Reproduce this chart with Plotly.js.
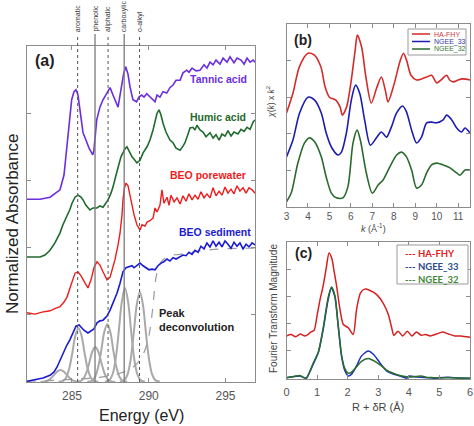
<!DOCTYPE html>
<html><head><meta charset="utf-8">
<script src="https://cdn.plot.ly/plotly-3.0.1.min.js"></script>
<style>html,body{margin:0;padding:0;background:#fff}#chart{width:474px;height:426px}</style>
</head><body><div id="chart"></div>
<script>
// ---------- Panel (a): C NEXAFS spectra (energy in eV, stacked normalized absorbance) ----------
const E_tannic = [282.07,282.92,283.57,283.96,284.22,284.48,284.65,284.8,284.98,285.13,285.26,285.39,285.52,285.72,285.91,286.11,286.35,286.43,286.61,286.82,287.02,287.22,287.48,287.67,287.8,288.0,288.19,288.36,288.5,288.65,288.78,288.97,289.21,289.36,289.54,289.69,289.87,290.08,290.28,290.41,290.54,290.73,290.93,291.17,291.38,291.58,291.78,292.04,292.23,292.47,292.62,292.82,293.08,293.34,293.6,293.79,293.99,294.19,294.38,294.64,294.84,295.1,295.29,295.55,295.75,296.01,296.21,296.4,296.6,296.8,296.92];
const A_tannic = [2.72,2.72,2.75,2.81,2.86,3.08,3.45,3.82,4.2,4.32,4.35,4.27,4.05,3.71,3.6,3.48,3.38,3.45,3.9,4.09,4.2,4.27,4.38,4.27,4.2,4.09,4.35,4.58,4.69,4.58,4.39,4.2,4.17,4.24,4.27,4.24,4.29,4.24,4.2,4.17,4.27,4.24,4.32,4.3,4.38,4.42,4.49,4.49,4.6,4.64,4.61,4.67,4.63,4.64,4.72,4.67,4.76,4.72,4.79,4.73,4.82,4.76,4.84,4.75,4.82,4.79,4.73,4.82,4.76,4.79,4.76];

const E_humic = [282.07,282.92,283.24,283.57,283.89,284.22,284.41,284.67,284.87,285.0,285.2,285.39,285.59,285.72,285.91,286.17,286.37,286.63,286.82,287.02,287.22,287.35,287.54,287.67,287.87,288.0,288.19,288.32,288.45,288.58,288.78,288.91,289.1,289.23,289.43,289.63,289.89,290.08,290.28,290.41,290.54,290.67,290.8,290.93,291.12,291.38,291.58,291.78,292.04,292.23,292.36,292.56,292.69,292.88,293.01,293.14,293.34,293.53,293.73,293.99,294.19,294.38,294.58,294.77,294.97,295.16,295.36,295.55,295.81,296.01,296.21,296.4,296.6,296.8,296.92];
const A_humic = [1.86,1.86,1.89,1.96,2.07,2.22,2.34,2.46,2.57,2.66,2.75,2.78,2.75,2.71,2.63,2.56,2.59,2.59,2.62,2.6,2.66,2.71,2.81,2.9,3.08,3.2,3.35,3.41,3.47,3.5,3.42,3.35,3.3,3.26,3.3,3.41,3.5,3.6,3.75,3.9,4.0,4.05,3.97,3.85,3.72,3.6,3.56,3.48,3.45,3.51,3.56,3.69,3.78,3.79,3.75,3.82,3.75,3.72,3.65,3.71,3.63,3.68,3.6,3.69,3.66,3.74,3.66,3.72,3.69,3.76,3.73,3.79,3.76,3.87,3.9];

const E_pore = [282.07,282.59,283.05,283.57,283.96,284.22,284.48,284.67,284.93,285.2,285.39,285.59,285.78,286.04,286.24,286.43,286.63,286.82,287.02,287.28,287.48,287.67,287.8,288.0,288.13,288.26,288.32,288.42,288.52,288.65,288.78,288.91,289.04,289.23,289.43,289.56,289.76,289.89,290.08,290.28,290.41,290.54,290.73,290.86,290.99,291.19,291.32,291.45,291.65,291.84,292.04,292.23,292.43,292.62,292.82,293.01,293.21,293.4,293.6,293.79,293.99,294.19,294.38,294.58,294.77,294.97,295.16,295.36,295.55,295.75,295.94,296.14,296.34,296.53,296.73,296.92];
const A_pore = [1.03,1.01,1.04,1.06,1.1,1.12,1.19,1.26,1.44,1.62,1.64,1.58,1.5,1.4,1.52,1.7,1.79,1.74,1.64,1.52,1.56,1.7,1.82,2.04,2.22,2.49,2.71,2.89,2.96,2.92,2.78,2.63,2.49,2.34,2.26,2.34,2.32,2.38,2.4,2.44,2.59,2.53,2.63,2.86,2.66,2.75,2.63,2.78,2.68,2.74,2.65,2.77,2.69,2.8,2.71,2.78,2.72,2.83,2.74,2.8,2.74,2.89,2.77,2.84,2.78,2.9,2.81,2.87,2.8,2.92,2.84,2.89,2.81,2.89,2.86,2.81];

const E_sed = [282.07,282.59,283.11,283.57,283.83,284.02,284.22,284.41,284.67,284.87,285.07,285.26,285.46,285.59,285.78,286.04,286.24,286.43,286.63,286.82,287.02,287.28,287.48,287.67,287.93,288.13,288.32,288.52,288.71,288.91,289.04,289.23,289.43,289.63,289.82,290.02,290.21,290.41,290.6,290.8,290.99,291.19,291.38,291.58,291.78,292.04,292.23,292.43,292.62,292.82,293.01,293.21,293.4,293.6,293.79,293.99,294.19,294.38,294.58,294.77,294.97,295.16,295.36,295.55,295.75,295.94,296.14,296.34,296.53,296.73,296.92];
const A_sed = [0.01,0.03,0.06,0.1,0.15,0.22,0.33,0.43,0.55,0.63,0.74,0.83,0.85,0.82,0.77,0.73,0.76,0.79,0.88,0.91,0.92,0.98,1.07,1.18,1.32,1.47,1.64,1.7,1.71,1.73,1.7,1.74,1.77,1.73,1.7,1.67,1.68,1.67,1.73,1.77,1.79,1.83,1.8,1.85,1.83,1.86,1.89,1.88,1.93,1.9,1.96,1.93,2.02,1.98,2.07,2.01,2.1,2.02,2.08,2.01,2.1,2.05,1.99,2.08,2.02,2.07,1.98,2.05,2.01,2.07,2.04];

// ionization step (dashed) of the deconvolution
const E_step = [282.07,284.22,286.82,288.13,288.97,289.43,289.76,290.02,290.21,290.34,290.47,290.67,290.93,291.38,292.04,293.34,294.64,295.94,296.92];
const A_step = [0.01,0.03,0.07,0.13,0.22,0.33,0.48,0.7,1.0,1.29,1.55,1.73,1.82,1.88,1.9,1.95,1.98,1.99,1.99];

// deconvolution peaks
const E_g1 = [282.95,283.25,283.45,283.65,283.85,284.05,284.25,284.45,284.65,284.85,285.05,285.25,285.55];
const A_g1 = [0.001,0.008,0.024,0.058,0.11,0.158,0.18,0.158,0.11,0.058,0.024,0.008,0.001];
const E_g2 = [284.12,284.42,284.62,284.82,285.02,285.22,285.42,285.62,285.82,286.02,286.22,286.42,286.72];
const A_g2 = [0.002,0.017,0.068,0.2,0.43,0.69,0.8,0.69,0.43,0.2,0.068,0.017,0.002];
const E_g3 = [285.22,285.52,285.72,285.92,286.12,286.32,286.52,286.72,286.92,287.12,287.32,287.52,287.82];
const A_g3 = [0.001,0.011,0.044,0.13,0.28,0.45,0.52,0.45,0.28,0.13,0.044,0.011,0.001];
const E_g4 = [286.0,286.3,286.5,286.7,286.9,287.1,287.3,287.5,287.7,287.9,288.1,288.3,288.6];
const A_g4 = [0.002,0.018,0.073,0.215,0.46,0.74,0.86,0.74,0.46,0.215,0.073,0.018,0.002];
const E_g5 = [287.15,287.45,287.65,287.85,288.05,288.25,288.45,288.65,288.85,289.05,289.25,289.45,289.75];
const A_g5 = [0.003,0.03,0.12,0.35,0.76,1.2,1.4,1.2,0.76,0.35,0.12,0.03,0.003];
const E_g6 = [288.12,288.42,288.62,288.82,289.02,289.22,289.42,289.62,289.82,290.02,290.22,290.42,290.72];
const A_g6 = [0.003,0.028,0.114,0.335,0.72,1.15,1.34,1.15,0.72,0.335,0.114,0.028,0.003];

const bandNames    = ["aromatic","phenolic","aliphatic","carboxylic","o-alkyl"];
const bandEnergies = [285.37, 286.5, 287.35, 288.4, 289.4];
const bandDash     = ["dot","solid","dot","solid","dot"];
const energyTicks  = [285, 290, 295];

// ---------- Panel (b): EXAFS chi(k) * k^2 ----------
const k_hafhy = [3.0,3.3,3.6,4.0,4.3,4.6,4.8,5.0,5.3,5.5,5.6,5.8,6.0,6.2,6.3,6.5,6.7,6.95,7.2,7.42,7.6,7.73,8.0,8.3,8.45,8.6,8.8,9.06,9.3,9.53,9.76,10.0,10.2,10.46,10.6,10.77,11.0,11.2,11.55];
const chi_hafhy = [2.57,3.11,3.83,4.2,4.15,3.83,3.28,3.0,2.92,2.73,2.51,2.73,3.39,4.29,4.7,4.37,3.55,2.84,3.25,3.55,3.2,2.87,3.33,4.0,4.2,4.0,3.6,3.47,3.5,3.55,3.6,3.39,3.47,3.6,3.47,3.42,3.47,3.5,3.47];
const k_ngee33 = [3.0,3.3,3.61,4.0,4.31,4.62,4.85,5.09,5.4,5.56,5.79,6.02,6.22,6.41,6.64,6.91,7.19,7.42,7.66,7.89,8.13,8.41,8.59,8.83,9.06,9.29,9.53,9.76,10.0,10.3,10.46,10.7,10.93,11.16,11.32,11.55];
const chi_ngee33 = [1.37,1.83,2.57,3.0,2.92,2.57,2.02,1.64,1.42,1.5,2.02,2.92,3.33,3.11,2.38,1.69,1.89,2.05,1.91,2.19,2.57,2.76,2.6,2.1,1.75,1.91,2.3,2.32,2.3,2.38,2.51,2.38,2.16,2.05,2.16,2.02];
const k_ngee32 = [3.0,3.22,3.53,3.84,4.07,4.31,4.62,4.85,5.09,5.32,5.63,5.86,6.1,6.29,6.44,6.72,7.0,7.27,7.5,7.81,8.13,8.36,8.59,8.83,9.06,9.29,9.53,9.76,10.0,10.3,10.62,10.93,11.08,11.32,11.55];
const chi_ngee32 = [0.14,0.38,1.2,1.75,1.89,1.78,1.37,0.82,0.38,0.25,0.25,0.55,1.75,2.1,1.83,0.93,0.38,0.6,0.74,1.09,1.42,1.5,1.37,1.01,0.52,0.6,0.93,1.15,1.2,1.15,1.07,0.93,0.87,1.01,1.01];

// ---------- Panel (c): Fourier transform magnitude ----------
const R_hafhy = [0,0.15,0.3,0.45,0.6,0.7,0.8,0.9,1.0,1.1,1.2,1.3,1.39,1.48,1.56,1.64,1.75,1.86,2.02,2.18,2.29,2.42,2.56,2.73,2.95,3.16,3.33,3.44,3.51,3.65,3.8,3.95,4.1,4.25,4.4,4.55,4.7,4.9,5.1,5.3,5.5,5.7,6.0];
const FT_hafhy = [1.55,1.6,1.52,1.62,1.55,1.6,1.7,1.75,2.3,2.9,3.4,4.05,4.6,4.4,3.9,3.37,2.52,1.97,1.85,1.6,2.52,3.13,3.27,3.22,3.07,2.76,2.34,1.85,1.57,1.72,1.55,1.72,1.55,1.7,1.58,1.6,1.55,1.62,1.7,1.62,1.55,1.55,1.5];
const R_ngee = [0,0.2,0.44,0.55,0.65,0.75,0.87,1.04,1.2,1.36,1.47,1.58,1.69,1.8,1.91,2.02,2.13,2.29,2.45,2.67,2.84,3.05,3.27,3.49,3.71,3.93,4.04,4.2,4.4,4.6,4.8,5.0,5.3,5.6,6.0];
const FT_ngee33 = [0.02,0.05,0.08,0.03,0.0,0.2,0.5,0.94,1.79,2.88,3.31,3.0,1.91,0.81,0.27,0.08,0.15,0.45,0.81,1.0,0.88,0.57,0.27,0.15,0.08,0.0,0.08,0.05,0.03,0.02,0.0,0.02,0.03,0.01,0.0];
const FT_ngee32 = [0.02,0.05,0.1,0.03,0.0,0.22,0.55,0.95,1.85,2.95,3.35,3.05,1.95,0.85,0.35,0.18,0.22,0.42,0.62,0.72,0.65,0.5,0.3,0.18,0.1,0.05,0.04,0.06,0.08,0.03,0.02,0.01,0.02,0.01,0.0];

// ---------- build ----------
const W = 474, H = 426;
const PX = v => v / W, PY = v => 1 - v / H;
const FONT = "Arial, 'Liberation Sans', sans-serif";

function ln(x, y, xa, ya, color, width, opts) {
  return Object.assign({type:'scatter', mode:'lines', x:x, y:y, xaxis:xa, yaxis:ya,
    line:{color:color, width:width}, hoverinfo:'skip', showlegend:false}, opts || {});
}
const GRAY = '#a9a9a9';
const gspl = {line:{color:GRAY, width:2, shape:'spline', smoothing:1}};
const traces = [
  ln(E_g1, A_g1, 'x', 'y', GRAY, 2, gspl),
  ln(E_g2, A_g2, 'x', 'y', GRAY, 2, gspl),
  ln(E_g3, A_g3, 'x', 'y', GRAY, 2, gspl),
  ln(E_g4, A_g4, 'x', 'y', GRAY, 2, gspl),
  ln(E_g5, A_g5, 'x', 'y', GRAY, 2, gspl),
  ln(E_g6, A_g6, 'x', 'y', GRAY, 2, gspl),
  ln(E_step, A_step, 'x', 'y', '#9a9a9a', 1.2, {line:{color:'#9a9a9a', width:1.2, dash:'dash', shape:'spline'}}),
  ln(E_sed, A_sed, 'x', 'y', '#1a1ad2', 1.6),
  ln(E_pore, A_pore, 'x', 'y', '#ee1c1c', 1.4),
  ln(E_humic, A_humic, 'x', 'y', '#1f6a2c', 1.6),
  ln(E_tannic, A_tannic, 'x', 'y', '#6b2ee0', 1.6),

  ln(k_hafhy, chi_hafhy, 'x2', 'y2', '#d42a2a', 1.6, {line:{color:'#d42a2a', width:1.6, shape:'spline', smoothing:0.8}}),
  ln(k_ngee33, chi_ngee33, 'x2', 'y2', '#1c1cb0', 1.6, {line:{color:'#1c1cb0', width:1.6, shape:'spline', smoothing:0.8}}),
  ln(k_ngee32, chi_ngee32, 'x2', 'y2', '#2a6a2e', 1.6, {line:{color:'#2a6a2e', width:1.6, shape:'spline', smoothing:0.8}}),

  ln(R_hafhy, FT_hafhy, 'x3', 'y3', '#d42020', 1.5, {line:{color:'#d42020', width:1.5, shape:'spline', smoothing:0.7}}),
  ln(R_ngee, FT_ngee33, 'x3', 'y3', '#1c2fb8', 1.5, {line:{color:'#1c2fb8', width:1.5, shape:'spline', smoothing:0.7}}),
  ln(R_ngee, FT_ngee32, 'x3', 'y3', '#2a6e2e', 1.5, {line:{color:'#2a6e2e', width:1.5, shape:'spline', smoothing:0.7}})
];

const FRAME = '#8c8c8c';
function ax(extra) {
  return Object.assign({showline:true, mirror:'ticks', linecolor:FRAME, linewidth:1,
    ticks:'inside', ticklen:4, tickcolor:FRAME, showgrid:false, zeroline:false,
    tickfont:{family:FONT, size:11, color:'#555'}}, extra);
}

const layout = {
  width: W, height: H, margin:{l:0, r:0, t:0, b:0},
  paper_bgcolor:'#fff', plot_bgcolor:'#fff', showlegend:false,
  font:{family:FONT, color:'#333'},
  xaxis: ax({domain:[PX(27), PX(255)], range:[282.07, 296.92], anchor:'y',
    tickvals: energyTicks, tickfont:{family:FONT, size:12, color:'#555'}, ticklabelstandoff:3}),
  yaxis: ax({domain:[PY(382), PY(46)], range:[0, 5], dtick:1, showticklabels:false, anchor:'x'}),
  xaxis2: ax({domain:[PX(286.5), PX(470)], range:[3, 11.55], dtick:1, anchor:'y2',
    tickfont:{family:FONT, size:10, color:'#555'}}),
  yaxis2: ax({domain:[PY(207), PY(24)], range:[0, 5], dtick:1, showticklabels:false, anchor:'x2'}),
  xaxis3: ax({domain:[PX(286.5), PX(470)], range:[0, 6], dtick:1, anchor:'y3',
    tickfont:{family:FONT, size:11, color:'#555'}, ticklabelstandoff:3}),
  yaxis3: ax({domain:[PY(379), PY(242)], range:[-0.03, 5], tickvals:[0,1,2,3,4,5], showticklabels:false, anchor:'x3'}),
  shapes: [],
  annotations: []
};

// band lines for panel (a)
bandEnergies.forEach((e, i) => {
  layout.shapes.push({type:'line', xref:'x', yref:'paper', x0:e, x1:e, y0:PY(382), y1:PY(34),
    line:{color: bandDash[i] === 'dot' ? '#555' : '#7a7a7a', width: bandDash[i] === 'dot' ? 1 : 1.3, dash: bandDash[i]}});
  layout.annotations.push({xref:'x', yref:'paper', x:e, y:PY(34), yanchor:'bottom', xanchor:'center',
    text:bandNames[i], textangle:-90, showarrow:false, font:{family:FONT, size:7, color:'#333'}});
});

function ann(text, x, y, o) {
  layout.annotations.push(Object.assign({xref:'paper', yref:'paper', x:PX(x), y:PY(y), text:text,
    showarrow:false, xanchor:'center', yanchor:'middle', font:{family:FONT, size:11, color:'#333'}}, o || {}));
}
// panel (a) texts
ann('<b>(a)</b>', 33, 60, {xanchor:'left', font:{family:FONT, size:16, color:'#222'}});
ann('<b>Tannic acid</b>', 249, 79, {xanchor:'right', font:{family:FONT, size:10.5, color:'#6b2ee0'}});
ann('<b>Humic acid</b>', 248, 117, {xanchor:'right', font:{family:FONT, size:10.5, color:'#1f6a2c'}});
ann('<b>BEO porewater</b>', 248, 175, {xanchor:'right', font:{family:FONT, size:10.5, color:'#ee1c1c'}});
ann('<b>BEO sediment</b>', 253, 232, {xanchor:'right', font:{family:FONT, size:10.5, color:'#1a1ad2'}});
ann('<b>Peak<br>deconvolution</b>', 157, 320, {xanchor:'left', align:'left', font:{family:FONT, size:11, color:'#222'}});
ann('Normalized Absorbance', 12, 224, {textangle:-90, font:{family:FONT, size:17, color:'#222'}});
ann('Energy (eV)', 141, 415, {font:{family:FONT, size:16, color:'#222'}});

// panel (b) texts
ann('<b>(b)</b>', 292, 40, {xanchor:'left', font:{family:FONT, size:14, color:'#222'}});
ann('<i>χ</i>(<i>k</i>) x <i>k</i><sup>2</sup>', 270, 102, {textangle:-90, font:{family:FONT, size:8.5, color:'#444'}});
ann('<i>k</i> (Å<sup>-1</sup>)', 373, 228, {font:{family:FONT, size:9, color:'#444'}});
layout.shapes.push({type:'rect', xref:'paper', yref:'paper', x0:PX(408), x1:PX(466), y0:PY(55), y1:PY(29),
  line:{color:'#999', width:1}, fillcolor:'#fff'});
const legB = [['HA-FHY', '#d42a2a', '#cc3b3b', 34], ['NGEE_33', '#1c1cb0', '#3a3aa8', 41.5], ['NGEE_32', '#2a6a2e', '#3a763a', 49]];
legB.forEach(r => {
  layout.shapes.push({type:'line', xref:'paper', yref:'paper', x0:PX(412), x1:PX(430), y0:PY(r[3]), y1:PY(r[3]),
    line:{color:r[1], width:1.5}});
  ann(r[0], 431.5, r[3], {xanchor:'left', font:{family:FONT, size:7, color:r[2]}});
});

// panel (c) texts
ann('<b>(c)</b>', 293, 253, {xanchor:'left', font:{family:FONT, size:14, color:'#222'}});
ann('Fourier Transform Magnitude', 273, 309, {textangle:-90, font:{family:FONT, size:10, color:'#444'}});
ann('R + δR (Å)', 378, 407, {font:{family:FONT, size:11, color:'#444'}});
layout.shapes.push({type:'rect', xref:'paper', yref:'paper', x0:PX(397), x1:PX(468), y0:PY(284), y1:PY(245),
  line:{color:'#999', width:1}, fillcolor:'#fff'});
const LFONT = "Lato, 'Open Sans', sans-serif";
[['--- HA-FHY', '#e02020', 253], ['--- NGEE_33', '#2b4a8c', 266.5], ['--- NGEE_32', '#3f8a3a', 279.5]].forEach(r => {
  ann('<b>' + r[0] + '</b>', 403, r[2], {xanchor:'left', font:{family:LFONT, size:9.5, color:r[1]}});
});

Plotly.newPlot('chart', traces, layout, {staticPlot:true, displayModeBar:false});
</script></body></html>
